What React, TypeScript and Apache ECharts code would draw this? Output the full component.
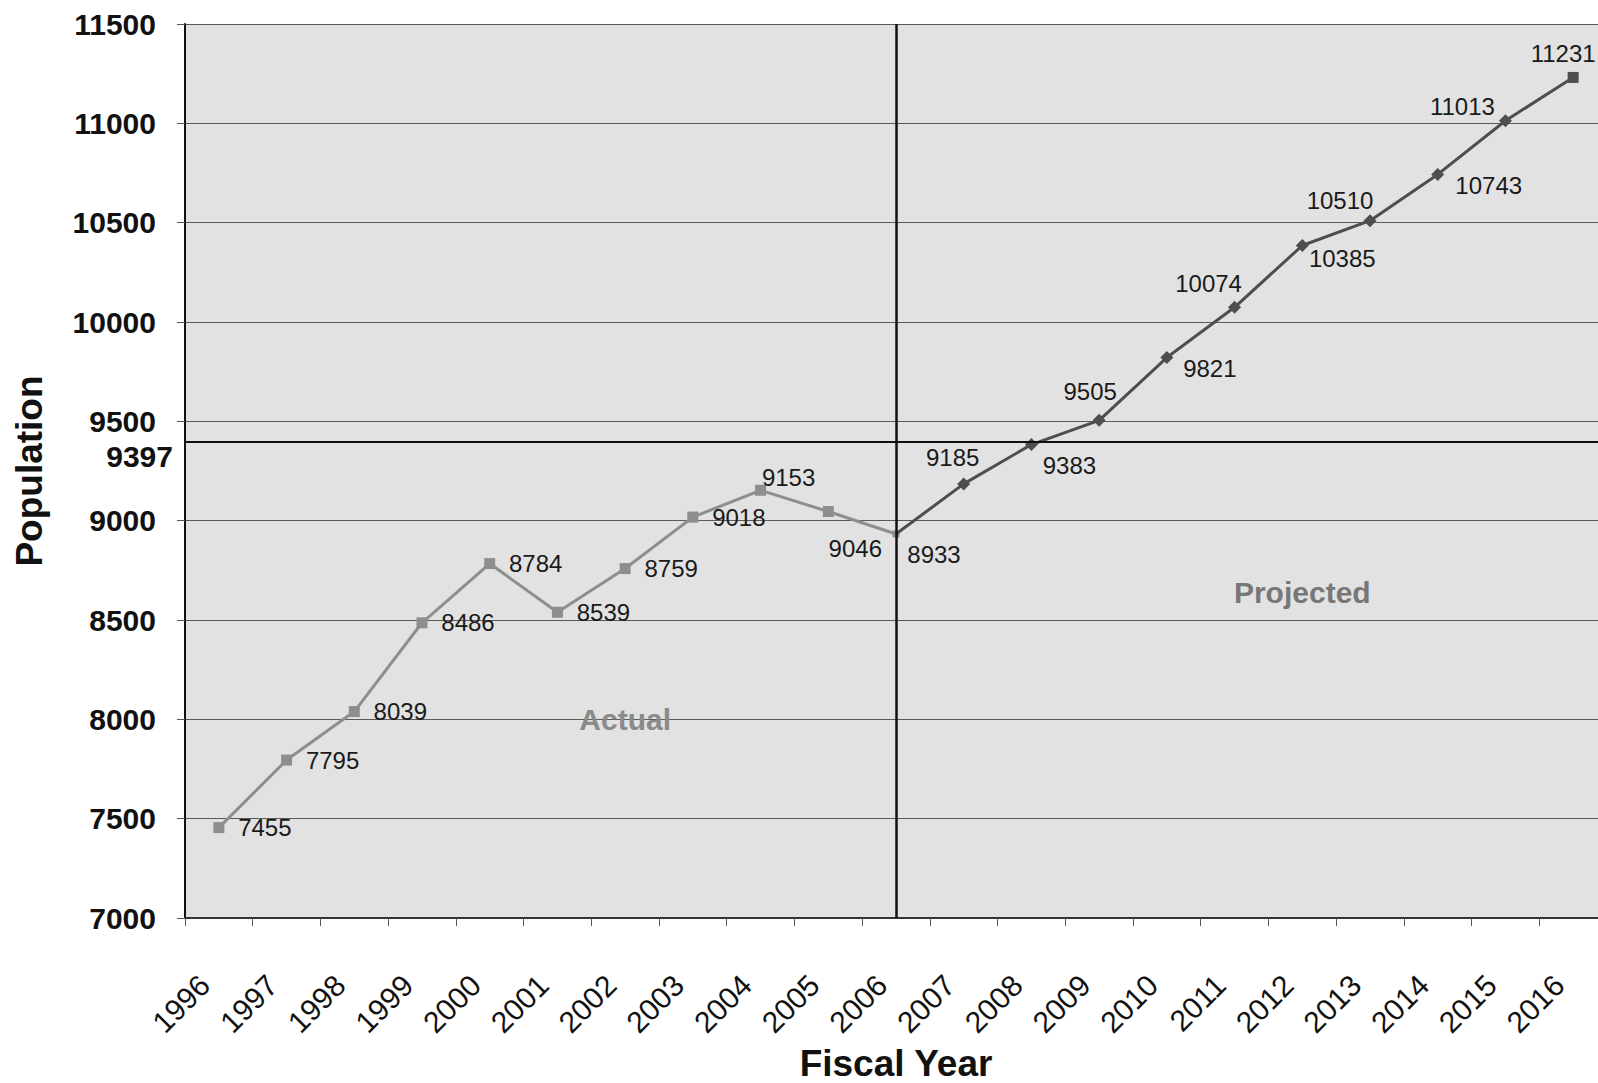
import React, { useEffect, useRef } from "react";
import * as echarts from "echarts";

const years = [
  "1996", "1997", "1998", "1999", "2000", "2001", "2002", "2003", "2004", "2005", "2006",
  "2007", "2008", "2009", "2010", "2011", "2012", "2013", "2014", "2015", "2016",
];
// Actual: 1996-2006
const actualValues = [7455, 7795, 8039, 8486, 8784, 8539, 8759, 9018, 9153, 9046, 8933];
// Projected: 2006-2016
const projectedValues = [8933, 9185, 9383, 9505, 9821, 10074, 10385, 10510, 10743, 11013, 11231];
const yMin = 7000;
const yMax = 11500;
const yInterval = 500;
const referenceValue = 9397;
const splitYear = "2006";
const annotations = [
  { text: "Actual", year: "2002", value: 8000, color: "#8a8a8a" },
  { text: "Projected", year: "2012", value: 8640, color: "#777777" },
];

// label placement (offset of label centre from point), styling only
const actualLabelOffsets = [
  [46, 0], [46, 0], [46, 0], [46, 0], [46, 0], [46, 0], [46, 0], [46, 0],
  [28, -13], [27, 37], [38, 21],
];
const projectedLabelOffsets = [
  null, [-11, -26], [38, 21], [-9, -29], [43, 11], [-26, -24], [40, 13],
  [-30, -20], [51, 11], [-43, -14], [-10, -24],
];

const FONT = "'Liberation Sans', Arial, Helvetica, sans-serif";

export default function App() {
  const ref = useRef<HTMLDivElement>(null);
  useEffect(() => {
    if (!ref.current) return;
    const chart = echarts.init(ref.current, undefined, { renderer: "svg" });
    const startIdx = years.indexOf(splitYear);

    const actualData: any[] = years.map((_, i) => {
      if (i >= actualValues.length) return "-";
      const off = actualLabelOffsets[i];
      return {
        value: actualValues[i],
        symbolSize: i === actualValues.length - 1 ? 7 : 11,
        label: { show: true, offset: off },
      };
    });
    const projectedData: any[] = years.map((_, i) => {
      if (i < startIdx) return "-";
      const j = i - startIdx;
      const off = projectedLabelOffsets[j];
      const last = j === projectedValues.length - 1;
      return {
        value: projectedValues[j],
        symbol: last ? "rect" : "diamond",
        symbolSize: j === 0 ? 0 : last ? 11 : 13,
        label: off ? { show: true, offset: off } : { show: false },
      };
    });

    const labelBase = {
      show: true,
      position: "inside",
      fontSize: 24,
      fontFamily: FONT,
      color: "#1a1a1a",
      formatter: (p: any) => String(p.value),
    };

    chart.setOption({
      animation: false,
      backgroundColor: "#ffffff",
      grid: {
        left: 185,
        top: 24,
        width: 1422,
        height: 894,
        show: true,
        backgroundColor: "#e2e2e2",
        borderWidth: 0,
        containLabel: false,
        outerBoundsMode: "none",
      },
      xAxis: {
        type: "category",
        data: years,
        boundaryGap: true,
        axisLine: { show: true, lineStyle: { color: "#333333", width: 2 } },
        axisTick: { show: true, length: 8, lineStyle: { color: "#555555", width: 1 } },
        axisLabel: {
          rotate: 45,
          interval: 0,
          fontSize: 30,
          fontWeight: "normal",
          fontFamily: FONT,
          color: "#111111",
          margin: 48,
          padding: [0, 20, 0, 0],
        },
        splitLine: { show: false },
        name: "Fiscal Year",
        nameLocation: "middle",
        nameGap: 124,
        nameTextStyle: { fontSize: 37, fontWeight: "bold", fontFamily: FONT, color: "#111111" },
      },
      yAxis: {
        type: "value",
        min: yMin,
        max: yMax,
        interval: yInterval,
        axisLine: { show: true, lineStyle: { color: "#111111", width: 2 } },
        axisTick: { show: true, length: 8, lineStyle: { color: "#555555", width: 1 } },
        axisLabel: {
          fontSize: 30,
          fontWeight: "bold",
          fontFamily: FONT,
          color: "#111111",
          margin: 29,
          formatter: (v: number) => String(v),
        },
        splitLine: { show: true, lineStyle: { color: "#5a5a5a", width: 1 } },
        name: "Population",
        nameLocation: "middle",
        nameRotate: 90,
        nameGap: 137,
        nameTextStyle: { fontSize: 37, fontWeight: "bold", fontFamily: FONT, color: "#111111" },
      },
      series: [
        {
          name: "Actual",
          type: "line",
          data: actualData,
          symbol: "rect",
          symbolSize: 11,
          itemStyle: { color: "#8e8e8e" },
          lineStyle: { color: "#8e8e8e", width: 3 },
          label: labelBase,
          z: 3,
          markLine: {
            silent: true,
            symbol: ["none", "none"],
            animation: false,
            data: [
              {
                yAxis: referenceValue,
                lineStyle: { color: "#111111", width: 2, type: "solid" },
                label: {
                  show: true,
                  position: "start",
                  formatter: String(referenceValue),
                  fontSize: 30,
                  fontWeight: "bold",
                  fontFamily: FONT,
                  color: "#111111",
                  distance: 12,
                  verticalAlign: "top",
                },
              },
              {
                xAxis: splitYear,
                lineStyle: { color: "#111111", width: 2.5, type: "solid" },
                label: { show: false },
              },
            ],
          },
          markPoint: {
            silent: true,
            symbol: "circle",
            symbolSize: 0,
            data: annotations.map((a) => ({
              coord: [a.year, a.value],
              label: {
                show: true,
                position: "inside",
                formatter: a.text,
                fontSize: 30,
                fontWeight: "bold",
                fontFamily: FONT,
                color: a.color,
              },
            })),
          },
        },
        {
          name: "Projected",
          type: "line",
          data: projectedData,
          symbol: "diamond",
          symbolSize: 13,
          itemStyle: { color: "#4e4e4e" },
          lineStyle: { color: "#4e4e4e", width: 3 },
          label: labelBase,
          z: 4,
        },
      ],
    });
    return () => chart.dispose();
  }, []);
  return (
    <div
      ref={ref}
      style={{ position: "fixed", left: 0, top: 0, width: 1598, height: 1083, background: "#fff" }}
    />
  );
}
